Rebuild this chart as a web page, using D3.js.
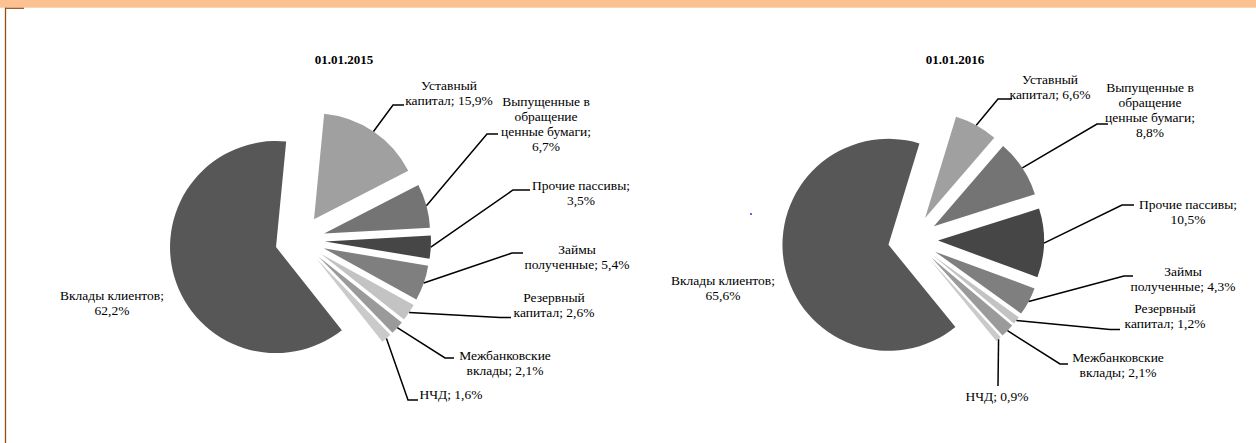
<!DOCTYPE html>
<html><head><meta charset="utf-8">
<script src="https://cdn.jsdelivr.net/npm/d3@7"></script>
<style>
html,body{margin:0;padding:0;background:#fff;}
svg{display:block;}
</style></head>
<body>
<script>
// ---- data ----
const categories = ["Уставный капитал", "Выпущенные в обращение ценные бумаги", "Прочие пассивы",
  "Займы полученные", "Резервный капитал", "Межбанковские вклады", "НЧД", "Вклады клиентов"];
const values2015 = [15.9, 6.7, 3.5, 5.4, 2.6, 2.1, 1.6, 62.2];
const values2016 = [6.6, 8.8, 10.5, 4.3, 1.2, 2.1, 0.9, 65.6];
const titles = ["01.01.2015", "01.01.2016"];
const labelLines = [
  ["Уставный", "капитал; {v}%"],
  ["Выпущенные в", "обращение", "ценные бумаги;", "{v}%"],
  ["Прочие пассивы;", "{v}%"],
  ["Займы", "полученные; {v}%"],
  ["Резервный", "капитал; {v}%"],
  ["Межбанковские", "вклады; {v}%"],
  ["НЧД; {v}%"],
  ["Вклады клиентов;", "{v}%"]
];

// ---- styles / layout ----
const W = 1256, H = 443;
const FONT = "Liberation Serif";
const colors = ["#a0a0a0", "#747474", "#464646", "#7f7f7f", "#c3c3c3", "#9a9a9a", "#cacaca", "#575757"];
const pies = [
  {values: values2015, cx: 300, cy: 240, start: 5.5, title: [344, 64],
   labels: [
     {x: 449, y: 90, elbow: [393, 105], end: 404},
     {x: 546, y: 106, elbow: [487, 134], end: 498},
     {x: 581, y: 190, elbow: [513, 190], end: 530},
     {x: 577, y: 254, elbow: [512, 253], end: 523},
     {x: 554, y: 302, elbow: [500, 317.5], end: 511},
     {x: 505, y: 360, elbow: [445, 358], end: 454},
     {x: 451, y: 399, elbow: [408, 400], end: 418},
     {x: 112, y: 300}
   ]},
  {values: values2016, cx: 913, cy: 240, start: 17, title: [955, 64],
   labels: [
     {x: 1050, y: 84, elbow: [998, 99], end: 1012},
     {x: 1150, y: 92, elbow: [1097, 124], end: 1108},
     {x: 1188, y: 209, elbow: [1122, 205], end: 1134},
     {x: 1183, y: 276, elbow: [1124, 276], end: 1133},
     {x: 1165, y: 313, elbow: [1110, 329.5], end: 1120},
     {x: 1118, y: 362, elbow: [1060, 364], end: 1068},
     {x: 997, y: 401, elbow: [998, 386], end: 998},
     {x: 723, y: 285}
   ]}
];
const R = 106, EXPLODE = 25, LH = 15, FS = 13.5;

const svg = d3.select("body").append("svg").attr("width", W).attr("height", H)
  .attr("font-family", FONT);

// header band and frame
svg.append("rect").attr("x", 0).attr("y", 0).attr("width", W).attr("height", 7.7).attr("fill", "#fbc190");
svg.append("line").attr("x1", 5.5).attr("x2", 5.5).attr("y1", 7.7).attr("y2", H)
  .attr("stroke", "#9a4a10").attr("stroke-width", 1.3);
svg.append("line").attr("x1", 5).attr("x2", 24).attr("y1", 8.3).attr("y2", 8.3)
  .attr("stroke", "#9a4a10").attr("stroke-width", 1.2);

const fmt = v => String(v.toFixed(1)).replace(".", ",");

pies.forEach((p, pi) => {
  const a0 = p.start * Math.PI / 180;
  const arcs = d3.pie().sort(null).value(d => d).startAngle(a0).endAngle(a0 + 2 * Math.PI)(p.values);
  const arc = d3.arc().innerRadius(0).outerRadius(R);
  const g = svg.append("g").attr("transform", `translate(${p.cx},${p.cy})`);

  g.selectAll("path").data(arcs).join("path")
    .attr("d", arc)
    .attr("fill", (d, i) => colors[i])
    .attr("transform", d => {
      const m = (d.startAngle + d.endAngle) / 2;
      return `translate(${EXPLODE * Math.sin(m)},${-EXPLODE * Math.cos(m)})`;
    });

  svg.append("text").attr("x", p.title[0]).attr("y", p.title[1])
    .attr("font-family", FONT)
    .attr("text-anchor", "middle").attr("font-weight", "bold").attr("font-size", 13)
    .text(titles[pi]);

  arcs.forEach((d, i) => {
    const L = p.labels[i];
    const m = (d.startAngle + d.endAngle) / 2;
    if (L.elbow) {
      const sx = p.cx + (EXPLODE + R) * Math.sin(m), sy = p.cy - (EXPLODE + R) * Math.cos(m);
      svg.append("polyline")
        .attr("points", `${sx},${sy} ${L.elbow[0]},${L.elbow[1]} ${L.end},${L.elbow[1]}`)
        .attr("fill", "none").attr("stroke", "#000").attr("stroke-width", 1.5);
    }
    const t = svg.append("text").attr("text-anchor", "middle").attr("font-size", FS)
      .attr("font-family", FONT);
    labelLines[i].forEach((ln, k) => {
      t.append("tspan").attr("x", L.x).attr("y", L.y + k * LH).text(ln.replace("{v}", fmt(p.values[i])));
    });
  });
});

// small blue mark seen in the source image
svg.append("circle").attr("cx", 751).attr("cy", 214).attr("r", 1).attr("fill", "#3030e0");
</script>
</body></html>
